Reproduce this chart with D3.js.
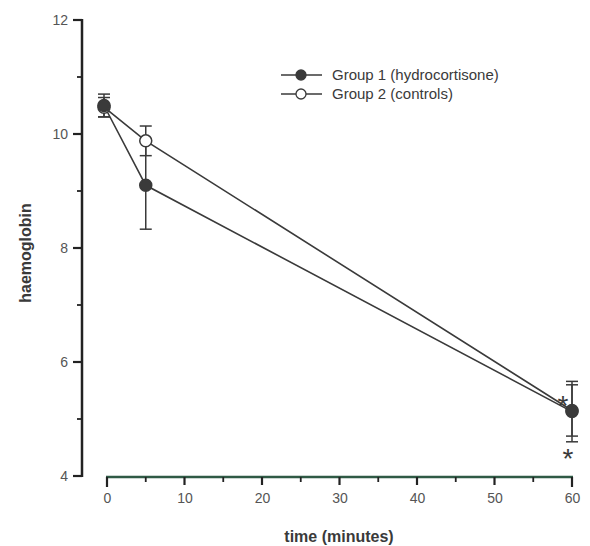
<!DOCTYPE html>
<html>
<head>
  <meta charset="utf-8">
  <style>
    body { margin: 0; background: #fff; }
    text { font-family: "Liberation Sans", Arial, sans-serif; fill: #3a3a3a; }
  </style>
</head>
<body>
  <svg id="chart" width="590" height="546"></svg>
  <script src="https://d3js.org/d3.v7.min.js"></script>
  <script>
    // data
    var times = [0, 5, 60];
    var group1 = [10.5, 9.1, 5.13];      // hydrocortisone
    var group1Err = [0.2, 0.77, 0.53];
    var group2 = [10.47, 9.88, 5.15];    // controls
    var group2Err = [0.17, 0.26, 0.45];
    var yTicks = [4, 6, 8, 10, 12];
    var yMinor = [5, 7, 9, 11];
    var xTicks = [0, 10, 20, 30, 40, 50, 60];
    var xMinor = [5, 15, 25, 35, 45, 55];
    var legendLabels = ["Group 1 (hydrocortisone)", "Group 2 (controls)"];

    var ink = "#3a3a3a";
    var axisInk = "#222";
    var svg = d3.select("#chart");

    var x = d3.scaleLinear().domain([0, 60]).range([107, 572]);
    var y = d3.scaleLinear().domain([4, 12]).range([476, 20]);

    // y axis: labels from d3.axisLeft, tick marks drawn as plain lines
    var yAxis = svg.append("g")
      .attr("transform", "translate(82,0)")
      .call(d3.axisLeft(y).tickValues(yTicks).tickSize(0).tickPadding(14));
    yAxis.select(".domain").remove();
    yAxis.selectAll(".tick text").style("font-size", "14px").style("fill", "#555");
    var yMarks = svg.append("g").attr("stroke", axisInk);
    yMarks.append("line").attr("x1", 82).attr("x2", 82)
      .attr("y1", y(12) - 1).attr("y2", y(4) + 1).attr("stroke-width", 2.5);
    yMarks.selectAll(".maj").data(yTicks).join("line").attr("class", "maj")
      .attr("x1", 73).attr("x2", 82)
      .attr("y1", d => y(d)).attr("y2", d => y(d)).attr("stroke-width", 2.2);
    yMarks.selectAll(".min").data(yMinor).join("line").attr("class", "min")
      .attr("x1", 77).attr("x2", 82)
      .attr("y1", d => y(d)).attr("y2", d => y(d)).attr("stroke-width", 1.8);

    // x axis (greenish line), labels from d3.axisBottom
    var axisGreen = "#2f5a45";
    var xAxis = svg.append("g")
      .attr("transform", "translate(0,477)")
      .call(d3.axisBottom(x).tickValues(xTicks).tickSize(0).tickPadding(16));
    xAxis.select(".domain").remove();
    xAxis.selectAll(".tick text").style("font-size", "14px").style("fill", "#555");
    var xMarks = svg.append("g");
    xMarks.append("line").attr("x1", x(0) - 1).attr("x2", x(60) + 1)
      .attr("y1", 477).attr("y2", 477)
      .attr("stroke", axisGreen).attr("stroke-width", 2.5);
    xMarks.selectAll(".maj").data(xTicks).join("line").attr("class", "maj")
      .attr("x1", d => x(d)).attr("x2", d => x(d))
      .attr("y1", 477).attr("y2", d => (d === 0 || d === 60) ? 487 : 485)
      .attr("stroke", axisInk).attr("stroke-width", 2.2);
    xMarks.selectAll(".min").data(xMinor).join("line").attr("class", "min")
      .attr("x1", d => x(d)).attr("x2", d => x(d))
      .attr("y1", 477).attr("y2", 482)
      .attr("stroke", axisInk).attr("stroke-width", 1.8);

    // axis titles
    svg.append("text")
      .attr("x", 339).attr("y", 542)
      .attr("text-anchor", "middle")
      .style("font-size", "16px").style("font-weight", "bold")
      .text("time (minutes)");
    svg.append("text")
      .attr("transform", "translate(31,253) rotate(-90)")
      .attr("text-anchor", "middle")
      .style("font-size", "16px").style("font-weight", "bold")
      .text("haemoglobin");

    // points at time 0 sit a little left of the tick in the original
    var px = t => x(t) - (t === 0 ? 3 : 0);
    var line = d3.line().x(d => px(d[0])).y(d => y(d[1]));
    var series = [
      { vals: group1, err: group1Err, fill: ink },
      { vals: group2, err: group2Err, fill: "#fff" }
    ];

    // error bars
    series.forEach(function (s) {
      var g = svg.append("g").attr("stroke", ink).attr("stroke-width", 1.5);
      times.forEach(function (t, i) {
        var cx = px(t), lo = y(s.vals[i] - s.err[i]), hi = y(s.vals[i] + s.err[i]);
        g.append("line").attr("x1", cx).attr("x2", cx).attr("y1", lo).attr("y2", hi);
        g.append("line").attr("x1", cx - 6).attr("x2", cx + 6).attr("y1", lo).attr("y2", lo);
        g.append("line").attr("x1", cx - 6).attr("x2", cx + 6).attr("y1", hi).attr("y2", hi);
      });
    });

    // lines
    series.forEach(function (s) {
      svg.append("path")
        .datum(times.map((t, i) => [t, s.vals[i]]))
        .attr("d", line)
        .attr("fill", "none")
        .attr("stroke", ink)
        .attr("stroke-width", 1.6);
    });

    // markers (controls drawn first so filled circles sit on top)
    [series[1], series[0]].forEach(function (s) {
      svg.append("g").selectAll("circle")
        .data(times.map((t, i) => [t, s.vals[i]]))
        .join("circle")
        .attr("cx", d => px(d[0])).attr("cy", d => y(d[1]))
        .attr("r", 6)
        .attr("fill", s.fill)
        .attr("stroke", ink).attr("stroke-width", 1.5);
    });

    // significance marks at 60 min
    svg.append("text").attr("x", x(60) - 9).attr("y", y(5.13) + 3)
      .attr("text-anchor", "middle").style("font-size", "28px").text("*");
    svg.append("text").attr("x", x(60) - 4).attr("y", y(4.55) + 23)
      .attr("text-anchor", "middle").style("font-size", "28px").text("*");

    // legend
    var legend = svg.append("g");
    legendLabels.forEach(function (lab, i) {
      var ly = 75 + i * 19;
      legend.append("line").attr("x1", 281).attr("x2", 322).attr("y1", ly).attr("y2", ly)
        .attr("stroke", ink).attr("stroke-width", 1.6);
      legend.append("circle").attr("cx", 301).attr("cy", ly).attr("r", 5)
        .attr("fill", i === 0 ? ink : "#fff").attr("stroke", ink).attr("stroke-width", 1.3);
      legend.append("text").attr("x", 332).attr("y", ly + 5)
        .style("font-size", "15px").text(lab);
    });
  </script>
</body>
</html>
